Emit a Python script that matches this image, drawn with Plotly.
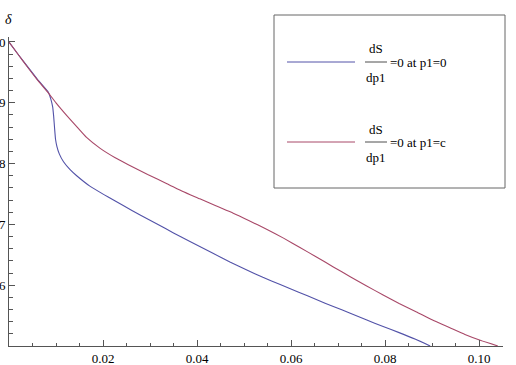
import plotly.graph_objects as go

# ---- data ----
blue_x = [0, 0.002, 0.004, 0.006, 0.0084, 0.0089, 0.0093, 0.0095, 0.0097, 0.0099,
          0.0102, 0.0107, 0.0116, 0.0130, 0.0144, 0.0172, 0.0211, 0.0243, 0.0280,
          0.0314, 0.0350, 0.0385, 0.0435, 0.0470, 0.0506, 0.0540, 0.0577, 0.0615,
          0.0655, 0.0690, 0.0726, 0.0760, 0.0796, 0.0830, 0.0865, 0.0896]
blue_y = [1.0, 0.979, 0.959, 0.939, 0.917, 0.906, 0.893, 0.878, 0.858, 0.840,
          0.828, 0.816, 0.803, 0.790, 0.780, 0.763, 0.745, 0.731, 0.715,
          0.701, 0.686, 0.672, 0.652, 0.638, 0.625, 0.613, 0.601, 0.589,
          0.576, 0.565, 0.554, 0.543, 0.532, 0.522, 0.511, 0.500]

red_x = [0, 0.002, 0.004, 0.006, 0.0084, 0.010, 0.0123, 0.0145, 0.0165, 0.0194,
         0.0225, 0.0257, 0.0295, 0.0336, 0.0370, 0.0406, 0.0440, 0.0477, 0.0510,
         0.0548, 0.0585, 0.0619, 0.0655, 0.0690, 0.0726, 0.0760, 0.0796, 0.0830,
         0.0867, 0.0900, 0.0938, 0.0970, 0.1004, 0.1040]
red_y = [1.0, 0.979, 0.958, 0.938, 0.916, 0.900, 0.879, 0.860, 0.843, 0.825,
         0.810, 0.797, 0.782, 0.767, 0.754, 0.742, 0.7305, 0.7185, 0.7065,
         0.692, 0.677, 0.662, 0.646, 0.630, 0.614, 0.599, 0.584, 0.570,
         0.556, 0.543, 0.530, 0.519, 0.509, 0.500]

x_ticks = [0.02, 0.04, 0.06, 0.08, 0.10]
x_labels = ["0.02", "0.04", "0.06", "0.08", "0.10"]
y_ticks = [0.6, 0.7, 0.8, 0.9, 1.0]
y_labels = ["0.6", "0.7", "0.8", "0.9", "1.0"]

series_names = ["=0 at p1=0", "=0 at p1=c"]
BLUE = "rgb(82,82,168)"
RED = "rgb(168,72,104)"
FONT = "Liberation Serif, Times New Roman, serif"

W, H = 516, 365
ML, MR, MT, MB = 9, 13, 37, 19
PW, PH = W - ML - MR, H - MT - MB


def px(xp):
    return (xp - ML) / PW


def py(yp):
    return (H - MB - yp) / PH


fig = go.Figure()
fig.add_trace(go.Scatter(x=blue_x, y=blue_y, mode="lines",
                         line=dict(color=BLUE, width=1.1, shape="spline", smoothing=0.4),
                         showlegend=False))
fig.add_trace(go.Scatter(x=red_x, y=red_y, mode="lines",
                         line=dict(color=RED, width=1.1, shape="spline", smoothing=0.4),
                         showlegend=False))

axis_common = dict(showgrid=False, zeroline=False, showline=True, linecolor="#555",
                   linewidth=1, ticks="inside", tickcolor="#555", automargin=False,
                   tickfont=dict(family=FONT, size=13, color="#000"))

fig.update_xaxes(range=[0, 0.1051], tickvals=x_ticks, ticktext=x_labels, ticklen=6,
                 minor=dict(dtick=0.005, tick0=0, ticks="inside", ticklen=3, tickcolor="#555"),
                 **axis_common)
fig.update_yaxes(range=[0.5, 1.0082], tickvals=y_ticks, ticktext=y_labels, ticklen=6,
                 minor=dict(dtick=0.02, tick0=0.5, ticks="inside", ticklen=4, tickcolor="#555"),
                 **axis_common)

shapes = []
annotations = []
# legend box
shapes.append(dict(type="rect", xref="paper", yref="paper",
                   x0=px(274), x1=px(505), y0=py(188), y1=py(15),
                   line=dict(color="#666", width=1), fillcolor="white", layer="above"))
for i, (name, col) in enumerate(zip(series_names, [BLUE, RED])):
    yc = 62 + 80 * i
    shapes.append(dict(type="line", xref="paper", yref="paper",
                       x0=px(287), x1=px(355), y0=py(yc), y1=py(yc),
                       line=dict(color=col, width=1), layer="above"))
    shapes.append(dict(type="line", xref="paper", yref="paper",
                       x0=px(365), x1=px(387), y0=py(yc), y1=py(yc),
                       line=dict(color="#222", width=0.8), layer="above"))
    annotations.append(dict(x=px(376), y=py(yc - 13), xref="paper", yref="paper",
                            text="dS", showarrow=False, xanchor="center", yanchor="middle",
                            font=dict(family=FONT, size=13, color="#000")))
    annotations.append(dict(x=px(376), y=py(yc + 15), xref="paper", yref="paper",
                            text="dp1", showarrow=False, xanchor="center", yanchor="middle",
                            font=dict(family=FONT, size=13, color="#000")))
    annotations.append(dict(x=px(388), y=py(yc), xref="paper", yref="paper",
                            text=name, showarrow=False, xanchor="left", yanchor="middle",
                            font=dict(family=FONT, size=13, color="#000")))

annotations.append(dict(x=px(8), y=py(19), xref="paper", yref="paper", text="<i>δ</i>",
                        showarrow=False, xanchor="center", yanchor="middle",
                        font=dict(family=FONT, size=14, color="#000")))

fig.update_layout(template="none", width=W, height=H,
                  margin=dict(l=ML, r=MR, t=MT, b=MB),
                  font=dict(family=FONT, size=13, color="#000"),
                  plot_bgcolor="white", paper_bgcolor="white",
                  shapes=shapes, annotations=annotations, showlegend=False)

fig.write_html("out.html")
